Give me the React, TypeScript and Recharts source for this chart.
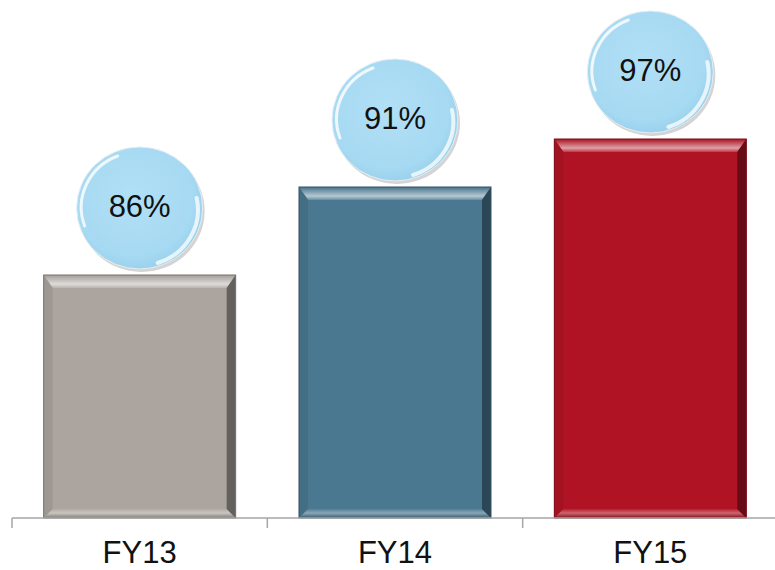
import { BarChart, Bar, XAxis, YAxis, LabelList } from 'recharts';

// Fiscal years shown on the axis
const years = ['FY13', 'FY14', 'FY15'];
// Percent shown in each bubble
const scores = [86, 91, 97];
// Bar heights as drawn (the bars are not scaled to the percent)
const barHeight = [48.6, 66.2, 75.8];
const barColors = ['#aca59f', '#4a7890', '#b01424'];

const FONT = '"Liberation Sans", Arial, sans-serif';

const data = years.map((year, i) => ({ year, height: barHeight[i], score: scores[i] }));

// mix a hex colour toward white (t>0) or black (t<0)
function shade(hex: string, t: number) {
  const n = parseInt(hex.slice(1), 16);
  const ch = [(n >> 16) & 255, (n >> 8) & 255, n & 255].map((c) =>
    Math.round(t >= 0 ? c + (255 - c) * t : c * (1 + t)),
  );
  return `rgb(${ch[0]},${ch[1]},${ch[2]})`;
}

function BevelBar(props: any) {
  const { x, y, width, height, index } = props;
  if (!width || !height) return null;
  const c = barColors[index % barColors.length];
  const bt = 13;
  const bs = 9;
  const bb = 9;
  const x2 = x + width;
  const y2 = y + height;
  const topId = `topbevel-${index}`;
  const botId = `botbevel-${index}`;
  return (
    <g>
      <defs>
        <linearGradient id={topId} x1="0" y1="0" x2="0" y2="1">
          <stop offset="0%" stopColor={shade(c, -0.05)} />
          <stop offset="70%" stopColor={shade(c, 0.6)} />
          <stop offset="100%" stopColor={shade(c, 0.15)} />
        </linearGradient>
        <linearGradient id={botId} x1="0" y1="0" x2="0" y2="1">
          <stop offset="0%" stopColor={shade(c, 0.05)} />
          <stop offset="45%" stopColor={shade(c, 0.35)} />
          <stop offset="100%" stopColor={shade(c, -0.25)} />
        </linearGradient>
      </defs>
      <rect x={x} y={y} width={width} height={height} fill={c} />
      {/* top */}
      <polygon points={`${x},${y} ${x2},${y} ${x2 - bs},${y + bt} ${x + bs},${y + bt}`} fill={`url(#${topId})`} />
      {/* left */}
      <polygon points={`${x},${y} ${x + bs},${y + bt} ${x + bs},${y2 - bb} ${x},${y2}`} fill={shade(c, -0.08)} />
      {/* bottom */}
      <polygon points={`${x},${y2} ${x + bs},${y2 - bb} ${x2 - bs},${y2 - bb} ${x2},${y2}`} fill={`url(#${botId})`} />
      {/* right */}
      <polygon points={`${x2},${y} ${x2},${y2} ${x2 - bs},${y2 - bb} ${x2 - bs},${y + bt}`} fill={shade(c, -0.42)} />
      <rect x={x} y={y} width={width} height={height} fill="none" stroke={shade(c, -0.3)} strokeWidth={1} />
    </g>
  );
}

function Bubble(props: any) {
  const { x, y, width, value, index } = props;
  const cx = x + width / 2;
  const cy = y - 67;
  const rx = 63;
  const ry = 61;
  const id = `bubble-${index}`;
  return (
    <g>
      <defs>
        <radialGradient id={id} cx="45%" cy="42%" r="60%">
          <stop offset="0%" stopColor="#b1e0f6" />
          <stop offset="80%" stopColor="#a6d9f2" />
          <stop offset="100%" stopColor="#98d0ec" />
        </radialGradient>
      </defs>
      <ellipse cx={cx + 2} cy={cy + 3} rx={rx} ry={ry} fill="#d4d4d4" />
      <ellipse cx={cx} cy={cy} rx={rx} ry={ry} fill={`url(#${id})`} stroke="#e6eef2" strokeWidth={1} />
      <path
        d={`M ${cx - rx + 8} ${cy + 18} A ${rx - 6} ${ry - 6} 0 0 1 ${cx - 22} ${cy - ry + 9}`}
        fill="none"
        stroke="#ffffff"
        strokeOpacity={0.8}
        strokeWidth={3}
        strokeLinecap="round"
      />
      <path
        d={`M ${cx + rx - 6} ${cy - 10} A ${rx - 5} ${ry - 5} 0 0 1 ${cx + 18} ${cy + ry - 6}`}
        fill="none"
        stroke="#ffffff"
        strokeOpacity={0.75}
        strokeWidth={4}
        strokeLinecap="round"
      />
      <text
        x={cx}
        y={cy - 2}
        textAnchor="middle"
        dominantBaseline="central"
        fontFamily={FONT}
        fontSize={31}
        fill="#111111"
      >
        {value}%
      </text>
    </g>
  );
}

function YearTick(props: any) {
  const { x, y, payload, index } = props;
  const half = payload?.offset ?? 127.75;
  return (
    <g>
      <line x1={x - half} y1={y - 10} x2={x - half} y2={y} stroke="#a6a6a6" strokeWidth={1.5} />
      {index === years.length - 1 && (
        <line x1={x + half} y1={y - 10} x2={x + half} y2={y} stroke="#a6a6a6" strokeWidth={1.5} />
      )}
      <text x={x} y={y + 35} textAnchor="middle" fontFamily={FONT} fontSize={31} fill="#111111">
        {payload.value}
      </text>
    </g>
  );
}

export default function App() {
  return (
    <div
      style={{
        position: 'absolute',
        left: 0,
        top: 0,
        width: 775,
        height: 570,
        overflow: 'hidden',
        background: '#fff',
      }}
    >
      <BarChart
        width={790}
        height={570}
        data={data}
        margin={{ top: 18, right: 12, left: 12, bottom: 0 }}
        barCategoryGap="12.4%"
      >
        <XAxis
          dataKey="year"
          height={52}
          tickSize={10}
          tickMargin={0}
          tickLine={false}
          axisLine={{ stroke: '#a6a6a6', strokeWidth: 1.5 }}
          tick={<YearTick />}
          interval={0}
        />
        <YAxis hide domain={[0, 100]} />
        <Bar dataKey="height" shape={<BevelBar />} isAnimationActive={false}>
          <LabelList dataKey="score" content={<Bubble />} />
        </Bar>
      </BarChart>
    </div>
  );
}
